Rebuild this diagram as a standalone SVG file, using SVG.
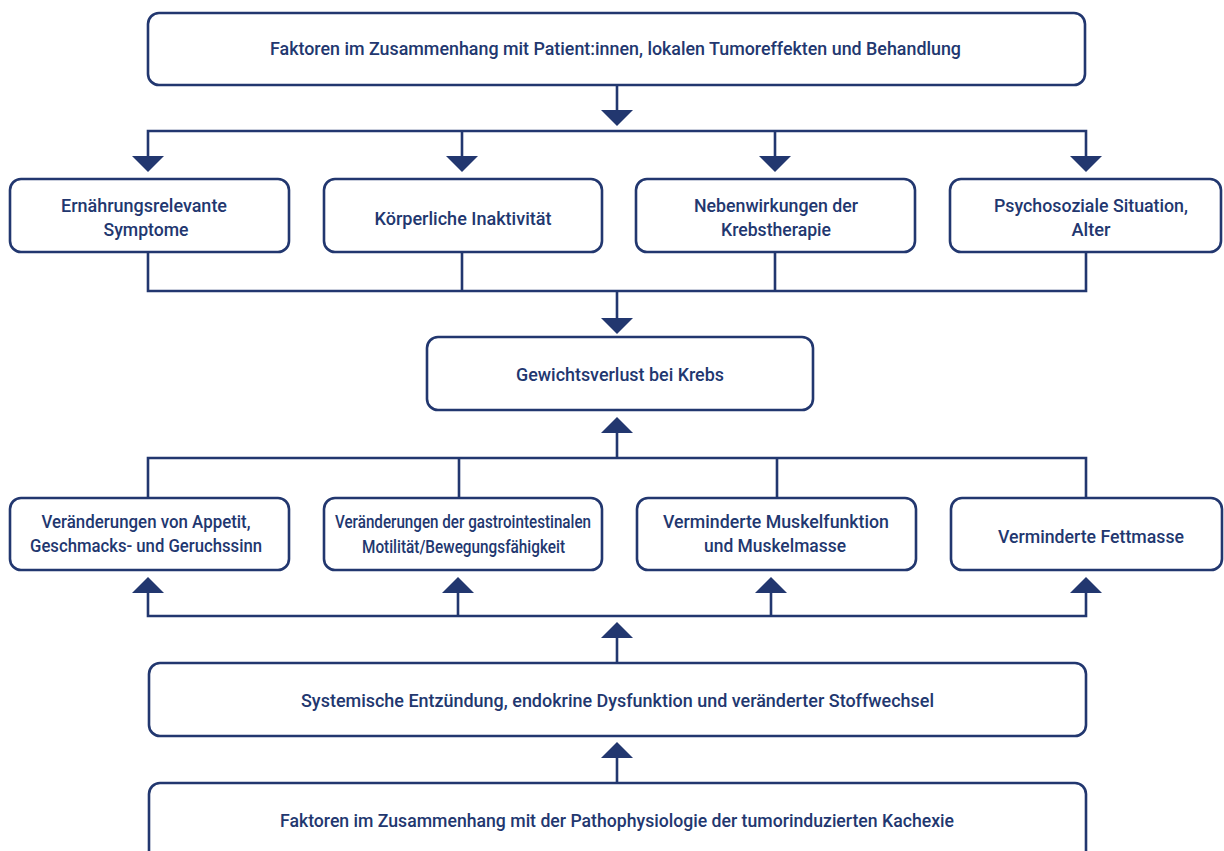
<svg xmlns="http://www.w3.org/2000/svg" width="1224" height="851" viewBox="0 0 1224 851">
<style>
.box{fill:#fff;stroke:#22376f;stroke-width:2.6}
.ln{fill:none;stroke:#22376f;stroke-width:2.6;stroke-linecap:square}
.ah{fill:#22376f;stroke:none}
text{font-family:"Liberation Sans Narrow","Roboto","Liberation Sans",sans-serif;font-size:19px;font-weight:500;fill:#22376f;text-anchor:middle}
</style>
<rect width="1224" height="851" fill="#fff"/>
<g id="connectors">
<path class="ln" d="M617 85V111"/>
<polygon class="ah" points="601,110 633,110 617,126"/>
<path class="ln" d="M148 158V131H1086V158M462 131V158M775 131V158"/>
<polygon class="ah" points="132,156 164,156 148,172"/>
<polygon class="ah" points="446,156 478,156 462,172"/>
<polygon class="ah" points="759,156 791,156 775,172"/>
<polygon class="ah" points="1070,156 1102,156 1086,172"/>
<path class="ln" d="M148 252V291H1086V252M462 252V291M775 252V291M617 291V319"/>
<polygon class="ah" points="601,318 633,318 617,334"/>
<polygon class="ah" points="601,433 633,433 617,417"/>
<path class="ln" d="M617 432V458M148 498V458H1086V498M459 458V498M777 458V498"/>
<polygon class="ah" points="132,593 164,593 148,577"/>
<polygon class="ah" points="442,593 474,593 458,577"/>
<polygon class="ah" points="755,593 787,593 771,577"/>
<polygon class="ah" points="1070,593 1102,593 1086,577"/>
<path class="ln" d="M148 592V616H1086V592M458 592V616M771 592V616"/>
<polygon class="ah" points="601,638 633,638 617,622"/>
<path class="ln" d="M617 637V663"/>
<polygon class="ah" points="601,758 633,758 617,742"/>
<path class="ln" d="M617 757V783"/>
</g>
<g id="n-top"><rect class="box" x="148" y="13" width="937" height="72" rx="11"/>
<text x="615.5" y="55" textLength="691" lengthAdjust="spacingAndGlyphs">Faktoren im Zusammenhang mit Patient:innen, lokalen Tumoreffekten und Behandlung</text></g>
<g id="n-symptome"><rect class="box" x="10" y="179" width="279" height="73" rx="11"/>
<text x="144" y="212" textLength="166" lengthAdjust="spacingAndGlyphs">Ernährungsrelevante</text>
<text x="146" y="236" textLength="85" lengthAdjust="spacingAndGlyphs">Symptome</text></g>
<g id="n-inaktiv"><rect class="box" x="324" y="179" width="278" height="73" rx="11"/>
<text x="463" y="225" textLength="177" lengthAdjust="spacingAndGlyphs">Körperliche Inaktivität</text></g>
<g id="n-neben"><rect class="box" x="636" y="179" width="279" height="73" rx="11"/>
<text x="776" y="212" textLength="164" lengthAdjust="spacingAndGlyphs">Nebenwirkungen der</text>
<text x="776" y="236" textLength="110" lengthAdjust="spacingAndGlyphs">Krebstherapie</text></g>
<g id="n-psycho"><rect class="box" x="950" y="179" width="271" height="73" rx="11"/>
<text x="1091" y="212" textLength="194" lengthAdjust="spacingAndGlyphs">Psychosoziale Situation,</text>
<text x="1091" y="236" textLength="39" lengthAdjust="spacingAndGlyphs">Alter</text></g>
<g id="n-gewicht"><rect class="box" x="427" y="337" width="386" height="73" rx="11"/>
<text x="620" y="381" textLength="208" lengthAdjust="spacingAndGlyphs">Gewichtsverlust bei Krebs</text></g>
<g id="n-appetit"><rect class="box" x="10" y="498" width="279" height="72" rx="11"/>
<text x="146" y="528" textLength="209" lengthAdjust="spacingAndGlyphs">Veränderungen von Appetit,</text>
<text x="146" y="552" textLength="232" lengthAdjust="spacingAndGlyphs">Geschmacks- und Geruchssinn</text></g>
<g id="n-gastro"><rect class="box" x="324" y="498" width="278" height="72" rx="11"/>
<text x="463" y="528" textLength="256" lengthAdjust="spacingAndGlyphs">Veränderungen der gastrointestinalen</text>
<text x="463.5" y="553" textLength="203" lengthAdjust="spacingAndGlyphs">Motilität/Bewegungsfähigkeit</text></g>
<g id="n-muskel"><rect class="box" x="637" y="498" width="279" height="72" rx="11"/>
<text x="776" y="528" textLength="226" lengthAdjust="spacingAndGlyphs">Verminderte Muskelfunktion</text>
<text x="775" y="552" textLength="142" lengthAdjust="spacingAndGlyphs">und Muskelmasse</text></g>
<g id="n-fett"><rect class="box" x="951" y="498" width="271" height="72" rx="11"/>
<text x="1091" y="543" textLength="186" lengthAdjust="spacingAndGlyphs">Verminderte Fettmasse</text></g>
<g id="n-systemisch"><rect class="box" x="149" y="663" width="937" height="73" rx="11"/>
<text x="617.5" y="707" textLength="633" lengthAdjust="spacingAndGlyphs">Systemische Entzündung, endokrine Dysfunktion und veränderter Stoffwechsel</text></g>
<g id="n-kachexie"><rect class="box" x="149" y="783" width="937" height="90" rx="11"/>
<text x="617" y="827" textLength="674" lengthAdjust="spacingAndGlyphs">Faktoren im Zusammenhang mit der Pathophysiologie der tumorinduzierten Kachexie</text></g>
</svg>
